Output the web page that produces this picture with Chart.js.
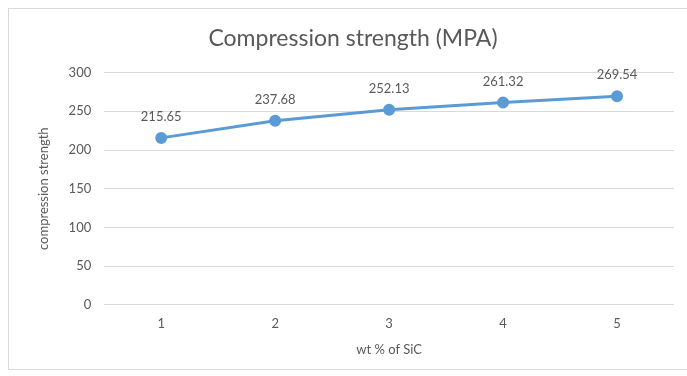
<!DOCTYPE html>
<html lang="en">
<head>
<meta charset="UTF-8">
<title>Compression strength</title>
<style>
  html, body { margin: 0; padding: 0; background: #fff; }
  .wrap { position: relative; width: 687px; height: 376px; }
  .frame { position: absolute; left: 8px; top: 8px; width: 690px; height: 362px; border: 1px solid #d9d9d9; box-sizing: border-box; }
  canvas { position: absolute; left: 0; top: 0; }
</style>
</head>
<body>
<div class="wrap">
  <div class="frame"></div>
  <canvas id="chart" width="687" height="376"></canvas>
</div>
<script src="https://cdn.jsdelivr.net/npm/chart.js"></script>
<script>
  // values
  const wtPercent = ['1', '2', '3', '4', '5'];
  const strength = [215.65, 237.68, 252.13, 261.32, 269.54];
  const yTicks = [0, 50, 100, 150, 200, 250, 300];

  const textColor = '#595959';
  const fontName = 'Lato, "Open Sans", sans-serif';

  // labels above each point
  const pointLabels = {
    id: 'pointLabels',
    afterDatasetsDraw(chart) {
      const ctx = chart.ctx;
      const meta = chart.getDatasetMeta(0);
      ctx.save();
      ctx.font = '13px ' + fontName;
      ctx.fillStyle = textColor;
      ctx.textAlign = 'center';
      ctx.textBaseline = 'middle';
      meta.data.forEach(function(pt, i) {
        ctx.fillText(strength[i].toFixed(2), pt.x, pt.y - 21);
      });
      ctx.restore();
    }
  };

  new Chart(document.getElementById('chart'), {
    type: 'line',
    data: {
      labels: wtPercent,
      datasets: [{
        data: strength,
        borderColor: '#5b9bd5',
        backgroundColor: '#5b9bd5',
        borderWidth: 3,
        pointRadius: 4.5,
        pointHoverRadius: 4.5,
        tension: 0
      }]
    },
    options: {
      responsive: false,
      animation: false,
      layout: { padding: { left: 32, right: 13, top: 12, bottom: 14 } },
      plugins: {
        legend: { display: false },
        tooltip: { enabled: false },
        title: {
          display: true,
          text: 'Compression strength (MPA)',
          color: textColor,
          font: { family: fontName, size: 23, weight: 'normal' },
          padding: { top: 13, bottom: 20 }
        }
      },
      scales: {
        x: {
          offset: true,
          grid: { display: false, drawTicks: false },
          border: { display: false },
          ticks: { color: textColor, font: { family: fontName, size: 13 }, padding: 11 },
          title: {
            display: true,
            text: 'wt % of SiC',
            color: textColor,
            font: { family: fontName, size: 13 },
            padding: { top: 0 }
          }
        },
        y: {
          min: 0,
          max: 300,
          afterBuildTicks(axis) { axis.ticks = yTicks.map(v => ({ value: v })); },
          grid: { color: '#d9d9d9', drawTicks: false },
          border: { display: false },
          ticks: { color: textColor, font: { family: fontName, size: 13 }, padding: 13 },
          title: {
            display: true,
            text: 'compression strength',
            color: textColor,
            font: { family: fontName, size: 13 },
            padding: { bottom: 4 }
          }
        }
      }
    },
    plugins: [pointLabels]
  });
</script>
</body>
</html>
